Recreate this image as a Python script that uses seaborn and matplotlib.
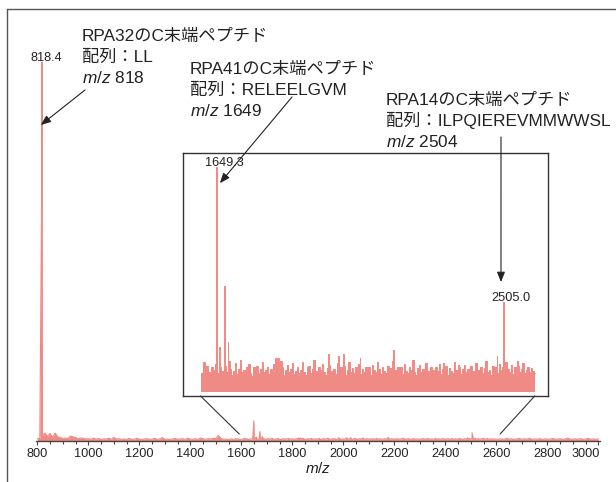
import numpy as np
import pandas as pd
import matplotlib.pyplot as plt
import seaborn as sns
from matplotlib.patches import ConnectionPatch
from matplotlib.lines import Line2D
from matplotlib.ticker import MultipleLocator
from matplotlib.transforms import ScaledTranslation

# noise trace of the spectrum (counts, base peak = 10000)
mz_low = np.arange(800, 1600, 10)
noise_low = [60, 70, 150, 210, 120, 200, 90, 210, 110, 90,
             70, 80, 60, 130, 110, 90, 60, 80, 70, 55,
             60, 45, 70, 50, 65, 40, 55, 50, 75, 45,
             95, 50, 60, 45, 55, 40, 65, 50, 45, 70,
             50, 40, 55, 60, 45, 50, 70, 40, 55, 90,
             45, 50, 40, 55, 65, 45, 50, 60, 40, 75,
             50, 45, 60, 40, 80, 55, 45, 60, 50, 70,
             60, 150, 65, 45, 50, 40, 55, 45, 60, 50]

mz_mid = np.arange(1600, 2605, 5)
noise_mid = [30, 45, 70, 55, 62, 48, 40, 58, 52, 65, 38, 45, 60, 50, 44, 62, 48, 72, 55, 40,
             50, 68, 42, 55, 75, 47, 52, 40, 60, 66, 45, 38, 58, 50, 62, 44, 55, 70, 48, 52,
             60, 42, 55, 48, 66, 80, 50, 45, 72, 58, 40, 52, 63, 47, 55, 68, 42, 50, 60, 45,
             52, 70, 48, 40, 58, 62, 45, 55, 75, 50, 43, 60, 52, 66, 48, 40, 57, 63, 50, 45,
             55, 42, 68, 50, 58, 45, 62, 40, 52, 70, 48, 56, 44, 60, 50, 65, 42, 55, 48, 60,
             46, 58, 40, 64, 52, 48, 70, 55, 42, 60, 50, 45, 62, 48, 56, 72, 44, 52, 60, 47,
             58, 42, 66, 50, 45, 60, 52, 75, 48, 40, 56, 63, 47, 55, 42, 68, 50, 45, 58, 52,
             44, 60, 50, 66, 42, 55, 48, 62, 40, 57, 50, 45, 70, 52, 46, 60, 42, 55, 64, 48,
             55, 45, 62, 50, 42, 68, 52, 47, 60, 44, 56, 72, 48, 53, 40, 62, 50, 58, 45, 66,
             52, 60, 45, 70, 55, 48, 64, 42, 58, 50, 62, 46, 55, 68, 44, 52, 60, 47, 56, 50,
             45]

mz_high = np.arange(2610, 3010, 10)
noise_high = [50, 55, 45, 70, 48, 60, 42, 55, 65, 45,
              58, 50, 72, 44, 55, 48, 62, 40, 56, 50,
              45, 66, 52, 48, 60, 42, 55, 75, 50, 45,
              58, 48, 62, 44, 52, 70, 46, 55, 40, 60]

# peaks
peak_mz = [817.6, 818.4, 1649.3, 1658.2, 1673.1, 1682.4, 1832.2, 1981.3, 2014.2,
           2029.4, 2077.1, 2176.3, 2328.2, 2373.4, 2487.2, 2505.0, 2547.3]
peak_int = [6900, 10000, 530, 106, 250, 117, 80, 90, 85,
            90, 80, 99, 69, 64, 85, 212, 74]

labeled_mz = [818.4, 1649.3, 2505.0]
labeled_int = [10000, 530, 212]
labeled_txt = ["818.4", "1649.3", "2505.0"]

df = pd.DataFrame({
    "mz": np.concatenate([mz_low, mz_mid, mz_high, peak_mz]),
    "intensity": np.concatenate([noise_low, noise_mid, noise_high, peak_int]),
}).sort_values("mz").reset_index(drop=True)
inset_df = df[(df.mz >= 1600) & (df.mz <= 2600)]

sns.set_style("white")
plt.rcParams["font.family"] = ["Liberation Sans", "Noto Sans CJK JP"]
plt.rcParams["mathtext.fontset"] = "custom"
plt.rcParams["mathtext.it"] = "Liberation Sans:italic"
plt.rcParams["mathtext.rm"] = "Liberation Sans"

W, H = 616, 482
red = "#f08a84"
ink = "#222222"


def px(x, y):
    return (x / W, 1 - y / H)


fig = plt.figure(figsize=(6.16, 4.82), dpi=100)

# main spectrum
ax = fig.add_axes([36.5 / W, 41 / H, 563.1 / W, 386 / H])
sns.lineplot(data=df, x="mz", y="intensity", ax=ax, color=red, lw=0.8,
             estimator=None, sort=False)
ax.fill_between(df.mz, df.intensity, color=red, lw=0)
ax.set_xlim(797, 3005)
ax.set_ylim(0, 10185)
ax.set_yticks([])
ax.set_xticks(range(800, 3001, 200))
ax.xaxis.set_minor_locator(MultipleLocator(50))
ax.tick_params(axis="x", which="both", direction="out", bottom=True,
               color="#444444", width=0.8, labelsize=9.2, labelcolor=ink, pad=2)
ax.tick_params(axis="x", which="major", length=3)
ax.tick_params(axis="x", which="minor", length=2.5)
for s in ["left", "top", "right"]:
    ax.spines[s].set_visible(False)
ax.spines["bottom"].set_color("#444444")
ax.spines["bottom"].set_linewidth(0.95)
ax.set_xlabel("$m/z$", fontsize=11, color=ink, labelpad=1)
ax.set_ylabel("")
# last tick label kept inside the axis end
last = ax.get_xticklabels()[-1]
last.set_horizontalalignment("right")
last.set_transform(last.get_transform() + ScaledTranslation(2 / 100, 0, fig.dpi_scale_trans))

# inset zoom 1600-2600
axin = fig.add_axes([183 / W, 86 / H, 365 / W, 243 / H])
sns.lineplot(data=inset_df, x="mz", y="intensity", ax=axin, color=red, lw=0.7,
             estimator=None, sort=False, drawstyle="steps-mid")
axin.fill_between(inset_df.mz, inset_df.intensity, color=red, lw=0, step="mid")
axin.set_xlim(1547.6, 2639.7)
axin.set_ylim(-9.4, 563)
axin.set_xticks([])
axin.set_yticks([])
axin.set_xlabel("")
axin.set_ylabel("")
for s in axin.spines.values():
    s.set_color("#333333")
    s.set_linewidth(1.0)

# zoom connectors
for x0, x1 in [(1600, 1592), (2600, 2615)]:
    con = ConnectionPatch(xyA=(x0, -9.4), coordsA=axin.transData,
                          xyB=(x1, 185), coordsB=ax.transData,
                          color="#333333", lw=0.8)
    fig.add_artist(con)

# peak labels
for m, v, t in zip(labeled_mz, labeled_int, labeled_txt):
    target = ax if m < 1600 else axin
    target.annotate(t, xy=(m, v), xytext=(-8.6, 0.6), textcoords="offset points",
                    ha="left", va="baseline", fontsize=9.2, color=ink,
                    annotation_clip=False)

# arrows
arrow = dict(arrowstyle="-|>,head_length=0.5,head_width=0.2", color=ink,
             lw=0.8, mutation_scale=12, shrinkA=0, shrinkB=0)
ax.annotate("", xy=(814, 8338), xytext=px(85, 90), textcoords="figure fraction",
            arrowprops=arrow)
axin.annotate("", xy=(1658, 492), xytext=px(292, 97), textcoords="figure fraction",
              arrowprops=arrow, annotation_clip=False)
axin.annotate("", xy=(2499, 259), xytext=px(501, 137), textcoords="figure fraction",
              arrowprops=arrow, annotation_clip=False)

# annotation texts
blocks = [
    (82, 41, ["RPA32のC末端ペプチド", "配列：LL", "$m/z$ 818"]),
    (190, 74, ["RPA41のC末端ペプチド", "配列：RELEELGVM", "$m/z$ 1649"]),
    (386, 105, ["RPA14のC末端ペプチド", "配列：ILPQIEREVMMWWSL", "$m/z$ 2504"]),
]
for x, y, lines in blocks:
    for i, line in enumerate(lines):
        fig.text(*px(x, y + 21 * i), line, fontsize=12.4, color=ink,
                 ha="left", va="baseline")

# outer frame (left and top edge)
fig.add_artist(Line2D([7 / W, 7 / W], [0, 1 - 9 / H], color="#555555", lw=1.0))
fig.add_artist(Line2D([7 / W, 1], [1 - 9 / H, 1 - 9 / H], color="#555555", lw=1.0))

fig.savefig("out.png", dpi=100)
